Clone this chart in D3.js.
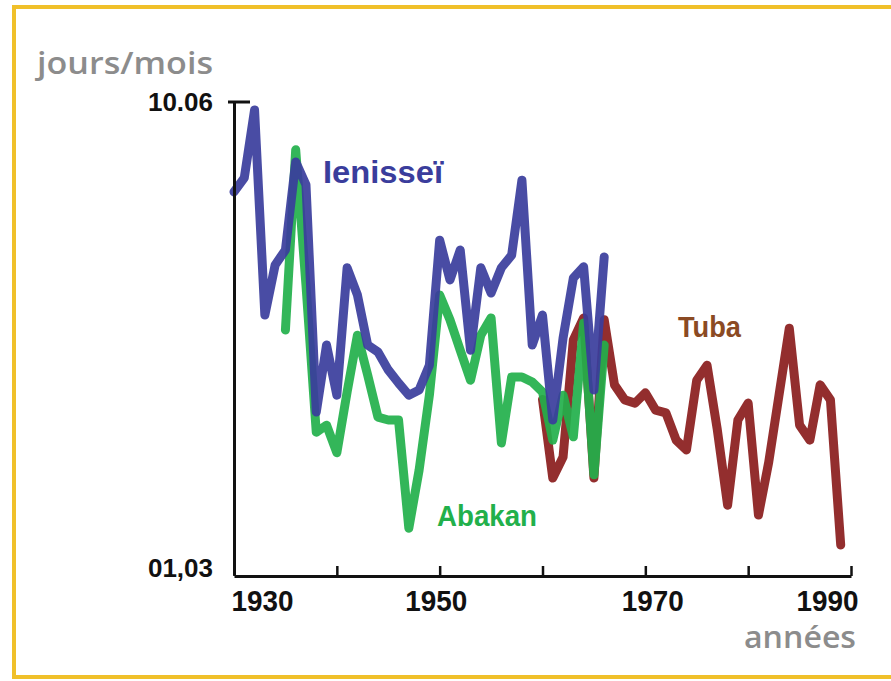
<!DOCTYPE html>
<html>
<head>
<meta charset="utf-8">
<script src="https://cdn.jsdelivr.net/npm/d3@7"></script>
<style>
  body { margin: 0; background: #fff; }
  svg { display: block; }
</style>
</head>
<body>
<svg width="891" height="681"></svg>
<script>
// jours apres le 1er mars (01,03 = 0, 10.06 = 101)
const ienisseiStart = 1930
const ienissei = [81.8, 84.8, 99.3, 55.5, 66.2, 69.4, 88.2, 83.3, 34.8, 49.1, 38.4, 65.6, 59.8, 49.1, 47.6, 43.8, 41.0, 38.4, 39.5, 44.8,
                  71.5, 63.0, 69.4, 48.0, 65.6, 60.2, 65.6, 68.3, 84.3, 49.1, 55.5, 33.1, 50.6, 63.4, 65.8, 39.5, 67.9]

const abakanStart = 1935
const abakan = [52.3, 90.8, 61.9, 30.5, 32.0, 26.1, 39.1, 51.2, 42.7, 33.7, 33.1, 33.1, 10.0, 22.4, 38.4,
                59.8, 54.5, 48.0, 41.6, 51.2, 54.9, 28.2, 42.3, 42.3, 41.2, 39.1, 28.8, 38.4, 29.5, 53.8, 21.4, 49.1]

const tubaStart = 1960
const tuba = [37.5, 20.7, 25.2, 50.2, 54.9, 20.7, 54.5, 40.6, 37.4, 36.7, 38.9, 35.2, 34.6, 28.8, 26.7,
              41.6, 44.8, 31.0, 14.9, 33.1, 36.7, 12.8, 24.1, 38.4, 52.7, 32.0, 28.8, 40.6, 37.4, 6.4]

const xTicks = [1930, 1940, 1950, 1960, 1970, 1980, 1990]
const xLabels = [1930, 1950, 1970, 1990]
const yTicks = [0, 101]
const yLabels = ["01,03", "10.06"]

const svg = d3.select("svg")
const font = "'Liberation Sans', Arial, sans-serif"
const grayFont = "'Open Sans', 'Noto Sans', sans-serif"

// cadre jaune
svg.append("rect")
  .attr("x", 14).attr("y", 7)
  .attr("width", 900).attr("height", 670)
  .attr("fill", "none")
  .attr("stroke", "#f0c02a")
  .attr("stroke-width", 4)

const x = d3.scaleLinear().domain([1930, 1990]).range([234, 851])
const y = d3.scaleLinear().domain([0, 101]).range([575, 102])

const series = [
  {name: "Tuba", start: tubaStart, values: tuba, color: "#8a1c1c"},
  {name: "Abakan", start: abakanStart, values: abakan, color: "#22b04b"},
  {name: "Ienisseï", start: ienisseiStart, values: ienissei, color: "#3a3d9c"}
]

const line = d3.line()
  .x(d => x(d.year))
  .y(d => y(d.value))

series.forEach(s => {
  let pts = s.values.map((v, i) => ({year: s.start + i, value: v}))
  svg.append("path")
    .datum(pts)
    .attr("d", line)
    .attr("fill", "none")
    .attr("stroke", s.color)
    .attr("stroke-width", 9)
    .attr("stroke-linejoin", "round")
    .attr("stroke-linecap", "round")
    .attr("opacity", 0.92)
})

// axe x, graduations vers le haut
const xAxis = svg.append("g")
  .attr("transform", "translate(0," + (y(0) + 1) + ")")
  .call(d3.axisBottom(x)
    .tickValues(xTicks)
    .tickSizeInner(-10)
    .tickSizeOuter(0)
    .tickPadding(14)
    .tickFormat(d => xLabels.includes(d) ? d : ""))

xAxis.select(".domain").attr("stroke", "#111").attr("stroke-width", 3)
xAxis.selectAll(".tick line").attr("stroke", "#111").attr("stroke-width", 2.5)
xAxis.selectAll(".tick text")
  .attr("font-family", font)
  .attr("font-weight", "bold")
  .attr("font-size", 30)
  .attr("fill", "#111")
  .attr("textLength", 62)
  .attr("lengthAdjust", "spacingAndGlyphs")
  .attr("text-anchor", d => d == 1930 ? "start" : (d == 1990 ? "end" : "middle"))
  .attr("x", d => d == 1930 ? -3 : (d == 1990 ? 7 : (d == 1970 ? 7 : -4)))

// axe y
const yAxis = svg.append("g")
  .attr("transform", "translate(" + x(1930) + ",0)")
  .call(d3.axisLeft(y)
    .tickValues(yTicks)
    .tickSize(0)
    .tickPadding(21)
    .tickFormat((d, i) => yLabels[i]))

yAxis.select(".domain").attr("stroke", "#111").attr("stroke-width", 3)
yAxis.selectAll(".tick text")
  .attr("font-family", font)
  .attr("font-weight", "bold")
  .attr("font-size", 26)
  .attr("fill", "#111")
  .attr("dy", d => d == 0 ? "0.05em" : "0.32em")

// petit trait en haut de l'axe
svg.append("line")
  .attr("x1", x(1930) - 6).attr("x2", x(1930) + 16)
  .attr("y1", y(101)).attr("y2", y(101))
  .attr("stroke", "#111")
  .attr("stroke-width", 3)

// titres des axes
svg.append("text")
  .attr("x", 37).attr("y", 74)
  .attr("font-family", grayFont)
  .attr("font-weight", 600)
  .attr("font-size", 31)
  .attr("fill", "#8c8c8c")
  .attr("textLength", 176)
  .attr("lengthAdjust", "spacingAndGlyphs")
  .text("jours/mois")

svg.append("text")
  .attr("x", 856).attr("y", 648)
  .attr("text-anchor", "end")
  .attr("font-family", grayFont)
  .attr("font-weight", 600)
  .attr("font-size", 31)
  .attr("fill", "#8c8c8c")
  .attr("textLength", 112)
  .attr("lengthAdjust", "spacingAndGlyphs")
  .text("années")

// noms des rivieres
const labels = [
  {text: "Ienisseï", x: 323, y: 183, size: 32, len: 120, color: "#3a3d9c"},
  {text: "Abakan", x: 437, y: 526, size: 29, len: 100, color: "#22b04b"},
  {text: "Tuba", x: 678, y: 337, size: 29, len: 63, color: "#8b4a23"}
]

svg.selectAll(".river-label")
  .data(labels)
  .enter().append("text")
  .attr("class", "river-label")
  .attr("x", d => d.x)
  .attr("y", d => d.y)
  .attr("font-family", font)
  .attr("font-weight", "bold")
  .attr("font-size", d => d.size)
  .attr("fill", d => d.color)
  .attr("textLength", d => d.len)
  .attr("lengthAdjust", "spacingAndGlyphs")
  .text(d => d.text)
</script>
</body>
</html>
